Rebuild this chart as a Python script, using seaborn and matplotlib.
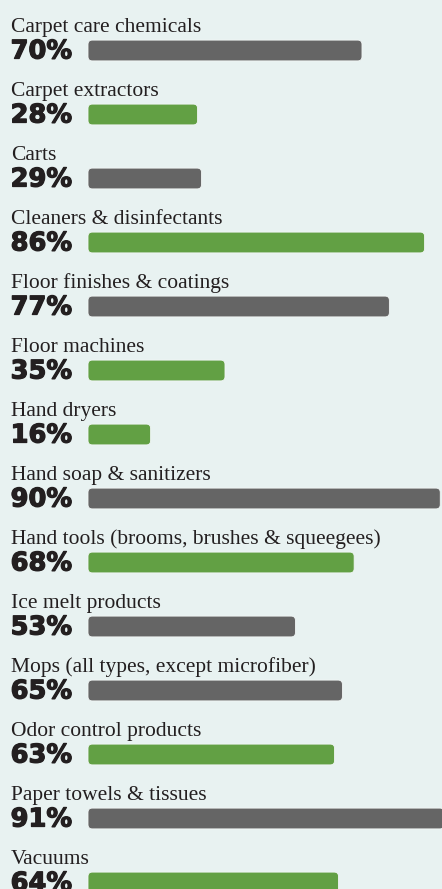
import matplotlib
matplotlib.use("Agg")
import matplotlib.pyplot as plt
from matplotlib.patches import FancyBboxPatch
import matplotlib.patheffects as pe
import pandas as pd
import seaborn as sns

categories = [
    "Carpet care chemicals",
    "Carpet extractors",
    "Carts",
    "Cleaners & disinfectants",
    "Floor finishes & coatings",
    "Floor machines",
    "Hand dryers",
    "Hand soap & sanitizers",
    "Hand tools (brooms, brushes & squeegees)",
    "Ice melt products",
    "Mops (all types, except microfiber)",
    "Odor control products",
    "Paper towels & tissues",
    "Vacuums",
]
values = [70, 28, 29, 86, 77, 35, 16, 90, 68, 53, 65, 63, 91, 64]
bar_groups = ["grey", "green", "grey", "green", "grey", "green", "green",
              "grey", "green", "grey", "grey", "green", "grey", "green"]

BG = "#e8f2f1"
GREY = "#656565"
GREEN = "#62a044"
TEXT = "#231f20"
group_colors = {"grey": GREY, "green": GREEN}

df = pd.DataFrame({"category": categories, "value": values, "group": bar_groups})

W, H = 442, 889
fig = plt.figure(figsize=(W / 100, H / 100), dpi=100, facecolor=BG)
ax = fig.add_axes([0, 0, 1, 1])
ax.set_facecolor(BG)

palette = {c: group_colors[g] for c, g in zip(categories, bar_groups)}
sns.barplot(data=df, x="value", y="category", hue="category", palette=palette,
            orient="h", width=0.325, legend=False, saturation=1, ax=ax)

# scale: pixels per percent point and per row
px_per_pct = 3.914
px_per_row = 64.0
x0_px = 88.0
y0_px = 50.5
xmin = -x0_px / px_per_pct
xmax = (W - x0_px) / px_per_pct
ymin = -y0_px / px_per_row
ymax = (H - y0_px) / px_per_row
ax.set_xlim(xmin, xmax)
ax.set_ylim(ymax, ymin)

# replace the square bars with rounded ones
radius = 1.1
aspect = px_per_pct / px_per_row
for p in list(ax.patches):
    x, y = p.get_x(), p.get_y()
    w, h = p.get_width(), p.get_height()
    fc = p.get_facecolor()
    p.remove()
    ax.add_patch(FancyBboxPatch((x, y), w, h,
                                boxstyle=f"round,pad=0,rounding_size={radius}",
                                mutation_aspect=aspect, facecolor=fc,
                                edgecolor="#f2f7f6", linewidth=0.6, zorder=2))

label_x = xmin + 11 / px_per_pct
heavy = [pe.Stroke(linewidth=0.9, foreground=TEXT), pe.Normal()]
for i, (cat, val) in enumerate(zip(categories, values)):
    ax.text(label_x, i - 18.5 / px_per_row, cat, ha="left", va="baseline",
            fontsize=15.5, family="Liberation Serif", color=TEXT)
    ax.text(label_x - 0.1, i + 8 / px_per_row, f"{val}%", ha="left", va="baseline",
            fontsize=18.5, family="DejaVu Sans", fontweight="bold", color=TEXT,
            path_effects=heavy)

ax.set_axis_off()
fig.savefig("out.png", dpi=100, facecolor=BG)
